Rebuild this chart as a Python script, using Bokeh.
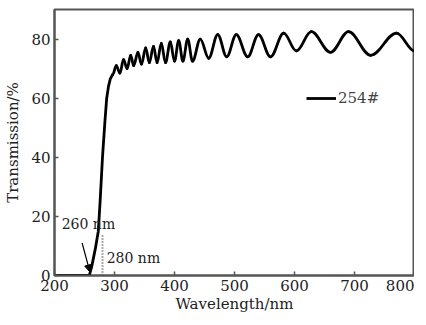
from bokeh.plotting import figure
from bokeh.models import Range1d, FixedTicker, Arrow, NormalHead, Label, Legend, LegendItem
from bokeh.embed import file_html
from bokeh.resources import INLINE

# ---- data ----
# steep absorption edge (wavelength nm, transmission %)
rise_wl = [200, 250, 258, 262, 268, 273, 276, 280, 284, 287, 290, 293, 297]
rise_t = [0, 0, 0, 3, 9, 15, 25, 40, 52, 60, 64, 66.5, 68]

# interference fringe extrema (alternating peak / valley), starting at edge end
osc_wl = [297, 303, 309, 315, 321, 327, 332, 339, 345, 352, 358, 365, 371, 378, 385,
          393, 400, 407, 414, 422, 430, 443, 457, 472, 487, 503, 522, 540, 560, 582,
          603, 628, 660, 690, 727, 770, 800]
osc_t = [68, 71, 68.5, 73, 70, 74.5, 71, 75.5, 71.5, 77, 72, 77.5, 72, 78.5, 72,
         79, 72.5, 79.5, 72.5, 80, 72.5, 80, 73.5, 81.5, 74, 81.5, 74, 81.5, 74, 82,
         76, 82.5, 75.5, 82.5, 74.5, 82, 76]

x_ticks = [200, 300, 400, 500, 600, 700, 800]
y_ticks = [0, 20, 40, 60, 80]
series_name = "254#"

FONT = "DejaVu Serif"
GRAY = "#555555"

p = figure(width=414, height=315, output_backend="svg", toolbar_location=None,
           x_range=Range1d(200, 800), y_range=Range1d(0, 90),
           min_border_left=54, min_border_right=0, min_border_top=9, min_border_bottom=40)
p.grid.visible = False
p.outline_line_color = GRAY
p.outline_line_width = 2
p.background_fill_color = "white"

for ax, ticks in ((p.xaxis[0], x_ticks), (p.yaxis[0], y_ticks)):
    ax.ticker = FixedTicker(ticks=ticks)
    ax.minor_tick_line_color = None
    ax.major_tick_in = 4
    ax.major_tick_out = 0
    ax.major_tick_line_color = GRAY
    ax.major_tick_line_width = 1.5
    ax.axis_line_color = GRAY
    ax.axis_line_width = 2
    ax.major_label_text_font = FONT
    ax.major_label_text_font_size = "15px"
    ax.major_label_text_color = "#222222"
    ax.axis_label_text_font = FONT
    ax.axis_label_text_font_size = "15px"
    ax.axis_label_text_font_style = "normal"
    ax.axis_label_text_color = "#222222"

p.xaxis.axis_label = "Wavelength/nm"
p.yaxis.axis_label = "Transmission/%"
p.xaxis.major_label_standoff = 4
p.xaxis.axis_label_standoff = 1
p.yaxis.major_label_standoff = 4
p.yaxis.axis_label_standoff = 6

# absorption edge
edge = p.line(rise_wl, rise_t, line_color="black", line_width=2.8, line_join="round")

# fringes: smooth half-waves between successive extrema
k = 0.36
x0 = osc_wl[:-1]
x1 = osc_wl[1:]
y0 = osc_t[:-1]
y1 = osc_t[1:]
cx0 = [a + k * (b - a) for a, b in zip(x0, x1)]
cx1 = [b - k * (b - a) for a, b in zip(x0, x1)]
p.bezier(x0=x0, y0=y0, x1=x1, y1=y1, cx0=cx0, cy0=y0, cx1=cx1, cy1=y1,
         line_color="black", line_width=2.8, line_cap="round")

# annotations
p.segment(x0=[280], y0=[0], x1=[280], y1=[14], line_color=GRAY, line_width=2, line_dash="1 2")
p.add_layout(Arrow(end=NormalHead(size=7, fill_color="black", line_color="black"),
                   x_start=246, y_start=11, x_end=259, y_end=1.2,
                   line_color="black", line_width=1.2))
p.add_layout(Label(x=212, y=17.3, text="260 nm", text_font=FONT, text_font_size="14px",
                   text_baseline="middle", text_color="#222222"))
p.add_layout(Label(x=287, y=5.8, text="280 nm", text_font=FONT, text_font_size="14px",
                   text_baseline="middle", text_color="#222222"))

legend = Legend(items=[LegendItem(label=series_name, renderers=[edge])],
                location=(252, 167), padding=0, margin=0, spacing=0,
                glyph_width=30, glyph_height=20, label_standoff=2,
                label_text_font=FONT, label_text_font_size="15px", label_text_color="#444444",
                border_line_color=None, background_fill_alpha=0)
p.add_layout(legend)

open("out.html", "w").write(file_html(p, INLINE))
